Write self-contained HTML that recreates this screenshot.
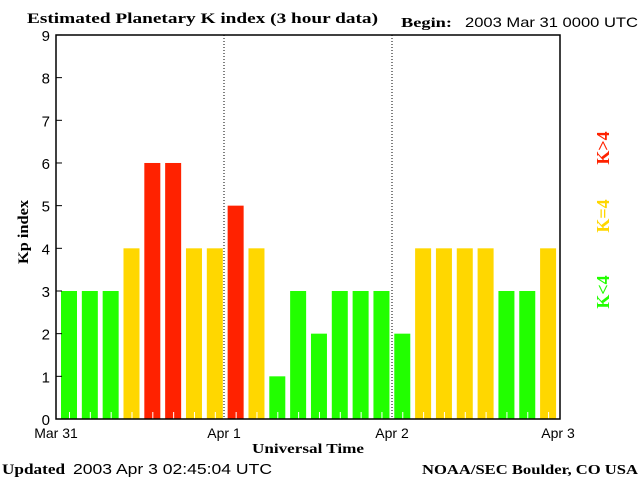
<!DOCTYPE html>
<html><head><style>
body{margin:0;background:#fff}
svg{display:block}
.s{font-family:"Liberation Serif",serif;font-weight:bold}
.a{font-family:"Liberation Sans",sans-serif}
</style></head><body>
<svg width="640" height="480" xmlns="http://www.w3.org/2000/svg">
<rect width="640" height="480" fill="#fff"/>
<text x="27" y="23" class="s" font-size="15" textLength="351" lengthAdjust="spacingAndGlyphs">Estimated Planetary K index (3 hour data)</text>
<text x="401" y="27" class="s" font-size="14" textLength="51" lengthAdjust="spacingAndGlyphs">Begin:</text>
<text x="465" y="27" class="a" font-size="14" textLength="173" lengthAdjust="spacingAndGlyphs">2003 Mar 31 0000 UTC</text>
<g id="bars"></g>
<line x1="224" y1="35" x2="224" y2="419" stroke="#000" stroke-dasharray="1,2"/>
<line x1="392" y1="35" x2="392" y2="419" stroke="#000" stroke-dasharray="1,2"/>
<path d="M56,35H560V419H56Z" fill="none" stroke="#000" stroke-width="1.5"/>
<g class="a" font-size="15" text-anchor="end" id="yl"></g>
<text x="56" y="438" class="a" font-size="14" text-anchor="middle">Mar 31</text>
<text x="224" y="438" class="a" font-size="14" text-anchor="middle">Apr 1</text>
<text x="392" y="438" class="a" font-size="14" text-anchor="middle">Apr 2</text>
<text x="558" y="438" class="a" font-size="14" text-anchor="middle">Apr 3</text>
<text x="252" y="453" class="s" font-size="14" textLength="112" lengthAdjust="spacingAndGlyphs">Universal Time</text>
<text transform="translate(28,264) rotate(-90)" class="s" font-size="15" textLength="64" lengthAdjust="spacingAndGlyphs">Kp index</text>
<text x="2" y="474" class="s" font-size="15" textLength="63" lengthAdjust="spacingAndGlyphs">Updated</text>
<text x="73" y="474" class="a" font-size="15" textLength="199" lengthAdjust="spacingAndGlyphs">2003 Apr  3 02:45:04 UTC</text>
<text x="422" y="474" class="s" font-size="14" textLength="216" lengthAdjust="spacingAndGlyphs">NOAA/SEC Boulder, CO USA</text>
<text transform="translate(609,148) rotate(-90)" class="s" font-size="18" fill="#ff2200" text-anchor="middle">K&gt;4</text>
<text transform="translate(609,216) rotate(-90)" class="s" font-size="18" fill="#ffd700" text-anchor="middle">K=4</text>
<text transform="translate(609,292) rotate(-90)" class="s" font-size="18" fill="#22ff00" text-anchor="middle">K&lt;4</text>
</svg>
<script>
var v=[3,3,3,4,6,6,4,4,5,4,1,3,2,3,3,3,2,4,4,4,4,3,3,4],s="",u=42.67;
v.forEach(function(k,i){var x=61+i*20.83,h=k*u,c=k<4?"#22ff00":k==4?"#ffd700":"#ff2200";
s+='<rect x="'+x+'" y="'+(419-h)+'" width="16" height="'+h+'" fill="'+c+'"/>';
s+='<line x1="'+(x+8.5)+'" y1="412" x2="'+(x+8.5)+'" y2="419" stroke="#fff"/>';});
document.getElementById("bars").innerHTML=s;
var y="";for(var k=0;k<=9;k++){var yy=419-k*u;y+='<text x="50" y="'+(yy+6)+'">'+k+'</text><line x1="56" y1="'+yy+'" x2="62" y2="'+yy+'" stroke="#000"/>';}
document.getElementById("yl").innerHTML=y;
</script>
</body></html>
